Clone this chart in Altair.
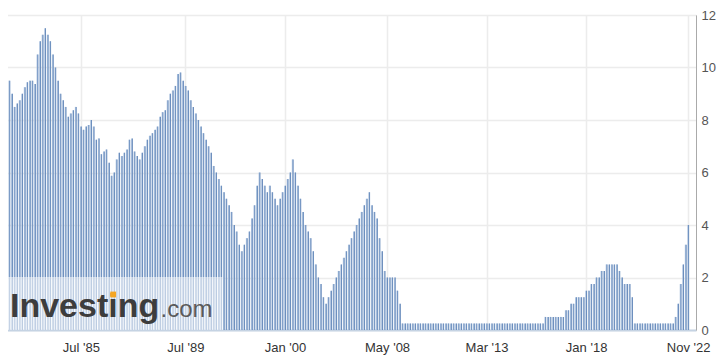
import altair as alt
import pandas as pd

# Fed interest rate decisions (%), one bar per decision, oldest first
rates = (
    [10.0, 9.5, 9.0, 8.5, 8.625, 8.75, 9.0, 9.25, 9.44, 9.5, 9.5, 9.375,
     10.5, 11.0, 11.25, 11.5, 11.25, 11.0, 10.5, 10.0, 9.5, 9.0, 8.75, 8.5,
     8.125, 8.25, 8.375, 8.5, 8.25, 7.75, 7.625, 7.75, 7.81, 8.0, 7.75, 7.25,
     7.3, 6.7, 6.8, 6.875, 6.375, 5.875, 6.0, 6.5, 6.75, 6.625, 6.75, 6.875,
     7.25, 7.3, 6.8, 6.625, 6.5, 6.75, 7.0, 7.25, 7.4, 7.5, 7.625, 7.75,
     8.125, 8.3, 8.375, 8.75, 9.0, 9.125, 9.3, 9.75, 9.81, 9.5, 9.3, 9.125,
     8.75, 8.5, 8.25, 8.0, 7.75, 7.5, 7.25, 7.0, 6.75, 6.25, 6.0, 5.75,
     5.5, 5.25, 5.0, 4.75, 4.5, 4.0, 3.75, 3.25, 3.0, 3.25, 3.5, 3.75,
     4.25, 4.75, 5.5, 6.0, 5.75, 5.5, 5.25, 5.5, 5.25, 5.0, 4.75, 5.0,
     5.25, 5.5, 5.75, 6.0, 6.5, 6.0, 5.5, 5.0, 4.5, 4.0, 3.75, 3.5,
     3.0, 2.5, 2.0, 1.75, 1.25, 1.0, 1.25, 1.5, 1.75, 2.0, 2.25, 2.5,
     2.75, 3.0, 3.25, 3.5, 3.75, 4.0, 4.25, 4.5, 4.75, 5.0, 5.25, 4.75,
     4.5, 4.25, 3.5, 3.0, 2.25, 2.0, 2.0, 2.0, 2.0, 1.5, 1.0]
    + [0.25] * 56
    + [0.5] * 8
    + [0.75, 0.75, 1.0, 1.0, 1.25, 1.25, 1.25, 1.25, 1.5, 1.5, 1.75, 1.75,
       2.0, 2.0, 2.25, 2.25, 2.5, 2.5, 2.5, 2.5, 2.5, 2.25, 2.0, 1.75,
       1.75, 1.75, 1.25]
    + [0.25] * 16
    + [0.5, 1.0, 1.75, 2.5, 3.25, 4.0]
)

tick_index = [29, 70, 109, 149, 188, 227, 267]
tick_labels = ["Jul '85", "Jul '89", "Jan '00", "May '08", "Mar '13", "Jan '18", "Nov '22"]
y_ticks = [0, 2, 4, 6, 8, 10, 12]

df = pd.DataFrame({"i": list(range(len(rates))), "rate": rates})

label_expr = " : ".join(
    f'datum.value == {v} ? "{t}"' for v, t in zip(tick_index, tick_labels)
) + ' : ""'

n = len(rates)
x_scale = alt.Scale(domain=[-0.695, n + 0.1], nice=False, zero=False)
y_scale = alt.Scale(domain=[0, 12], nice=False)

x_axis = alt.Axis(values=tick_index, labelExpr=label_expr, grid=True,
                  gridColor="#ececec", gridWidth=1.5, domainColor="#c5d3e3",
                  domainWidth=2, ticks=False, labelFontSize=13,
                  labelColor="#333333", labelFont="Liberation Sans",
                  labelPadding=11, labelFlush=False, title=None)
y_axis = alt.Axis(orient="right", values=y_ticks, grid=True,
                  gridColor="#ececec", gridWidth=1.5, domainColor="#aaaaaa",
                  domainWidth=1, ticks=False, labelPadding=5,
                  labelFontSize=13, labelColor="#555555",
                  labelFont="Liberation Sans", title=None)

base = alt.Chart(df)
bars_light = base.mark_bar(width=1.6, color="#abc1de").encode(
    x=alt.X("i:Q", scale=x_scale, axis=x_axis),
    y=alt.Y("rate:Q", scale=y_scale, axis=y_axis),
)
bars_dark = base.mark_bar(width=0.8, xOffset=0.5, color="#5a80b5").encode(
    x=alt.X("i:Q", scale=x_scale),
    y=alt.Y("rate:Q", scale=y_scale),
)

one = pd.DataFrame({"k": [0]})
wm_rect = alt.Chart(one).mark_rect(color="white", opacity=0.55).encode(
    x=alt.value(0), x2=alt.value(223), y=alt.value(262), y2=alt.value(315)
)
wm_text = alt.Chart(one).mark_text(
    text="Investing", font="Liberation Sans", fontWeight="bold", fontSize=34,
    color="#3d3d3d", align="left", baseline="alphabetic"
).encode(x=alt.value(10), y=alt.value(301.7))
wm_com = alt.Chart(one).mark_text(
    text=".com", font="Liberation Sans", fontSize=24, color="#5a5a5a",
    align="left", baseline="alphabetic"
).encode(x=alt.value(160.5), y=alt.value(301.7))
wm_dot = alt.Chart(one).mark_square(size=34, color="#f5a623", opacity=1).encode(
    x=alt.value(113.2), y=alt.value(279.5)
)

chart = alt.layer(bars_light, bars_dark, wm_rect, wm_text, wm_com, wm_dot).properties(
    width=696, height=315,
    autosize=alt.AutoSizeParams(type="none"),
    padding={"left": -8, "top": 7, "right": 21, "bottom": 25},
).configure_view(stroke=None).configure(background="white")

chart.save("out.html", embed_options={"renderer": "svg", "actions": False})
